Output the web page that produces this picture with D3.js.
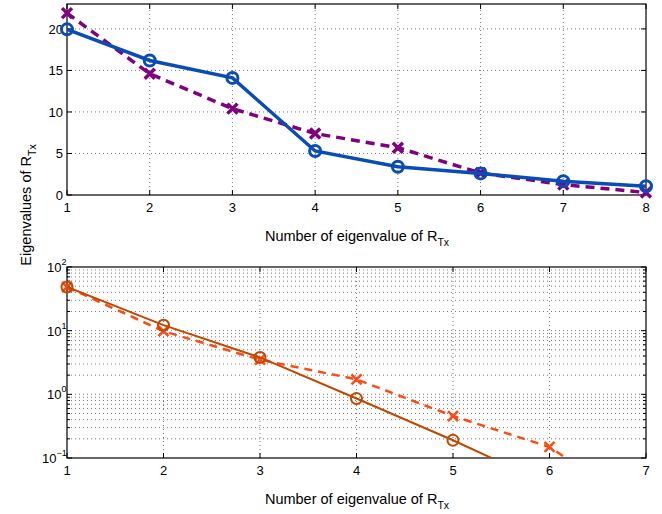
<!DOCTYPE html>
<html>
<head>
<meta charset="utf-8">
<script src="https://cdnjs.cloudflare.com/ajax/libs/d3/7.8.5/d3.min.js"></script>
<style>
  body { margin: 0; background: #fff; }
  svg { font-family: "Liberation Sans", Arial, sans-serif; }
  .grid line { stroke: #777; stroke-width: 1; stroke-dasharray: 1,3; }
</style>
</head>
<body>
<svg id="svg1" width="662" height="514"></svg>
<script>
// eigenvalue index for each panel
var topIndex = [1, 2, 3, 4, 5, 6, 7, 8];
var bottomIndex = [1, 2, 3, 4, 5, 6, 7];

// top panel (linear)
var topSolid = [19.95, 16.2, 14.1, 5.3, 3.4, 2.6, 1.65, 1.05];
var topDashed = [21.9, 14.6, 10.4, 7.4, 5.7, 2.65, 1.25, 0.3];

// bottom panel (log)
var bottomSolid = [48.5, 12.2, 3.8, 0.86, 0.19, 0.038, 0.008];
var bottomDashed = [48.5, 9.8, 3.5, 1.72, 0.456, 0.149, 0.0145];

var topYTicks = [0, 5, 10, 15, 20];
var bottomYTicks = [0.1, 1, 10, 100];
var bottomYExp = ["\u22121", "0", "1", "2"];

var svg = d3.select("#svg1");

var left = 67, right = 646;

function panel(opts) {
  var g = svg.append("g");
  var x = opts.x, y = opts.y;
  var x0 = x.range()[0], x1 = x.range()[1];
  var yb = y.range()[0], yt = y.range()[1];

  // grid
  var grid = g.append("g").attr("class", "grid");
  grid.selectAll(".gx")
      .data(x.domain()[0] === 1 ? d3.range(x.domain()[0] + 1, x.domain()[1]) : [])
      .enter().append("line")
      .attr("x1", function(d) { return x(d); }).attr("x2", function(d) { return x(d); })
      .attr("y1", yb).attr("y2", yt);
  grid.selectAll(".gy")
      .data(opts.gridY)
      .enter().append("line")
      .attr("y1", function(d) { return y(d); }).attr("y2", function(d) { return y(d); })
      .attr("x1", x0).attr("x2", x1);

  // tick marks inside, on all four sides
  var ticks = g.append("g").attr("stroke", "#000").attr("stroke-width", 1);
  x.ticks(x.domain()[1] - x.domain()[0]).forEach(function(d) {
    ticks.append("line").attr("x1", x(d)).attr("x2", x(d)).attr("y1", yb).attr("y2", yb - 5);
    ticks.append("line").attr("x1", x(d)).attr("x2", x(d)).attr("y1", yt).attr("y2", yt + 5);
  });
  opts.tickY.forEach(function(d) {
    ticks.append("line").attr("y1", y(d)).attr("y2", y(d)).attr("x1", x0).attr("x2", x0 + 5);
    ticks.append("line").attr("y1", y(d)).attr("y2", y(d)).attr("x1", x1).attr("x2", x1 - 5);
  });
  (opts.minorY || []).forEach(function(d) {
    ticks.append("line").attr("y1", y(d)).attr("y2", y(d)).attr("x1", x0).attr("x2", x0 + 3);
    ticks.append("line").attr("y1", y(d)).attr("y2", y(d)).attr("x1", x1).attr("x2", x1 - 3);
  });

  // box
  g.append("rect")
   .attr("x", x0).attr("y", yt)
   .attr("width", x1 - x0).attr("height", yb - yt)
   .attr("fill", "none").attr("stroke", "#000").attr("stroke-width", 1.2);

  // x tick labels
  g.selectAll(".xl")
   .data(x.ticks(x.domain()[1] - x.domain()[0]))
   .enter().append("text")
   .attr("x", function(d) { return x(d); })
   .attr("y", yb + 17)
   .attr("text-anchor", "middle")
   .attr("font-size", 13)
   .text(function(d) { return d; });

  // x label
  var xl = g.append("text")
            .attr("x", 357).attr("y", yb + 46)
            .attr("text-anchor", "middle")
            .attr("font-size", 14.5)
            .text("Number of eigenvalue of R");
  xl.append("tspan").attr("dy", 5).attr("font-size", 10.5).text("Tx");

  return g;
}

function drawSeries(g, x, y, idx, vals, style, clipId) {
  var pts = idx.map(function(d, i) { return [d, vals[i]]; });
  var line = d3.line()
               .x(function(d) { return x(d[0]); })
               .y(function(d) { return y(d[1]); });
  g.append("path")
   .datum(pts)
   .attr("clip-path", "url(#" + clipId + ")")
   .attr("d", line)
   .attr("fill", "none")
   .attr("stroke", style.color)
   .attr("stroke-width", style.width)
   .attr("stroke-dasharray", style.dash || null);

  var dom = y.domain();
  var inside = pts.filter(function(d) { return d[1] >= Math.min(dom[0], dom[1]) && d[1] <= Math.max(dom[0], dom[1]); });
  if (style.marker == "o") {
    g.selectAll(null).data(inside).enter().append("circle")
     .attr("cx", function(d) { return x(d[0]); })
     .attr("cy", function(d) { return y(d[1]); })
     .attr("r", style.size)
     .attr("fill", "none")
     .attr("stroke", style.color)
     .attr("stroke-width", style.mw);
  } else {
    g.selectAll(null).data(inside).enter().append("path")
     .attr("d", function(d) {
       var cx = x(d[0]), cy = y(d[1]), s = style.size;
       return "M" + (cx - s) + "," + (cy - s) + "L" + (cx + s) + "," + (cy + s) +
              "M" + (cx - s) + "," + (cy + s) + "L" + (cx + s) + "," + (cy - s);
     })
     .attr("stroke", style.color)
     .attr("stroke-width", style.mw)
     .attr("fill", "none");
  }
}

// ---------- top panel ----------
var xTop = d3.scaleLinear().domain([1, 8]).range([left, right]);
var yTop = d3.scaleLinear().domain([0, 23]).range([195, 4]);

var defs = svg.append("defs");
defs.append("clipPath").attr("id", "clipTop").append("rect")
    .attr("x", left).attr("y", 4).attr("width", right - left).attr("height", 191);
defs.append("clipPath").attr("id", "clipBot").append("rect")
    .attr("x", left).attr("y", 267).attr("width", right - left).attr("height", 191);

var gTop = panel({ x: xTop, y: yTop, gridY: topYTicks.slice(1), tickY: topYTicks });

gTop.selectAll(".yl")
    .data(topYTicks)
    .enter().append("text")
    .attr("x", left - 4)
    .attr("y", function(d) { return yTop(d) + 5; })
    .attr("text-anchor", "end")
    .attr("font-size", 13)
    .text(function(d) { return d; });

drawSeries(gTop, xTop, yTop, topIndex, topDashed,
           { color: "#800080", width: 3.5, dash: "9,6", marker: "x", size: 5, mw: 3.5 }, "clipTop");
drawSeries(gTop, xTop, yTop, topIndex, topSolid,
           { color: "#0a4cb5", width: 3.5, marker: "o", size: 5.5, mw: 3 }, "clipTop");

// ---------- bottom panel ----------
var xBot = d3.scaleLinear().domain([1, 7]).range([left, right]);
var yBot = d3.scaleLog().domain([0.1, 100]).range([458, 267]);

var minor = [];
[0.1, 1, 10].forEach(function(dec) {
  for (var k = 2; k <= 9; k++) minor.push(dec * k);
});

var gBot = panel({ x: xBot, y: yBot, gridY: minor.concat([1, 10]), tickY: bottomYTicks, minorY: minor });

var yl = gBot.selectAll(".yl")
    .data(bottomYTicks)
    .enter().append("text")
    .attr("x", function(d, i) { return i === 0 ? left - 25 : left - 20; })
    .attr("y", function(d) { return yBot(d) + 5; })
    .attr("text-anchor", "start")
    .attr("font-size", 13)
    .text("10");
yl.append("tspan")
  .attr("dy", -7)
  .attr("font-size", 9)
  .text(function(d, i) { return bottomYExp[i]; });

drawSeries(gBot, xBot, yBot, bottomIndex, bottomDashed,
           { color: "#ff4a14", width: 2.5, dash: "8,6", marker: "x", size: 5, mw: 2.5 }, "clipBot");
drawSeries(gBot, xBot, yBot, bottomIndex, bottomSolid,
           { color: "#c04800", width: 2, marker: "o", size: 5.5, mw: 2 }, "clipBot");

// shared y label
var ylab = svg.append("text")
              .attr("transform", "translate(31,205) rotate(-90)")
              .attr("text-anchor", "middle")
              .attr("font-size", 14.5)
              .text("Eigenvalues of R");
ylab.append("tspan").attr("dy", 5).attr("font-size", 10.5).text("Tx");
</script>
</body>
</html>
